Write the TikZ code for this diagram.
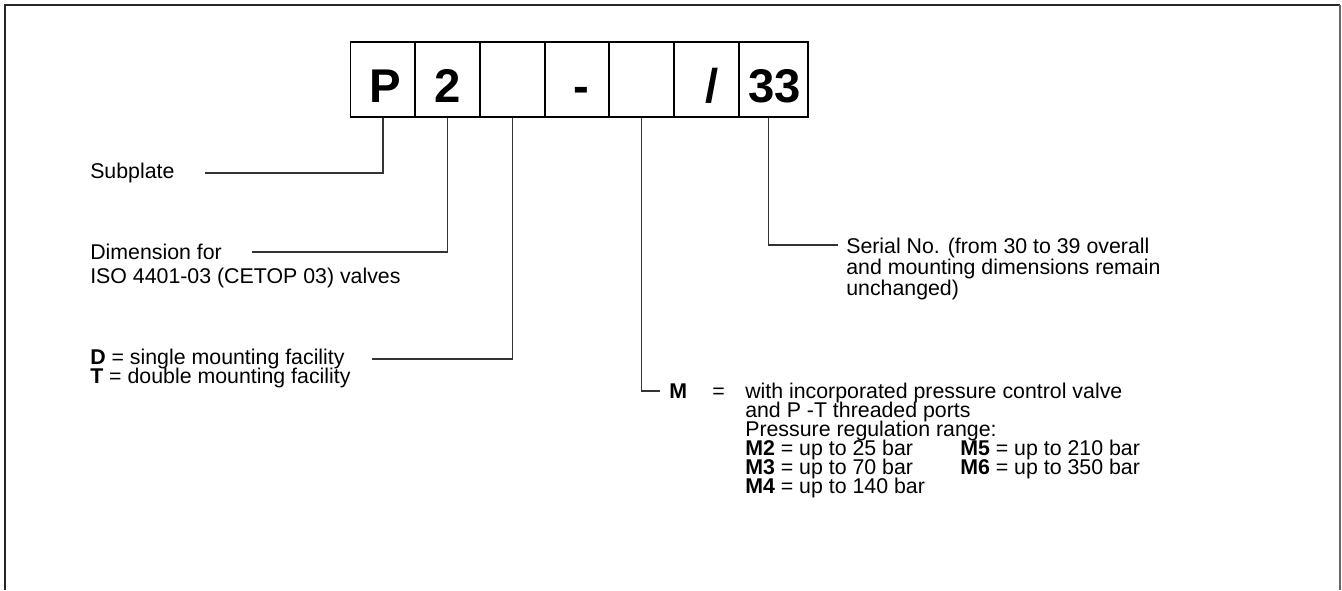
\documentclass[tikz,border=0pt]{standalone}
\usepackage{fontspec}
\setmainfont{Liberation Sans}

\begin{document}
\begin{tikzpicture}[
  x=0.75pt,
  y=-0.75pt,
  line join=miter,
  cell/.style={
    draw,
    line width=0.8pt,
    minimum width=48.75pt,
    minimum height=56.25pt,
    inner sep=0pt,
    text height=33.75pt,
    text depth=0pt,
    font=\fontsize{35.5}{36}\selectfont\bfseries,
  },
  txt/.style={
    anchor=base west,
    inner sep=0pt,
    font=\fontsize{16}{16}\selectfont,
  },
  lead/.style={
    draw=black!80,
    line width=0.8pt,
  },
]
  \useasboundingbox (0,0) rectangle (1342,590);

  % frame, open at the bottom
  \draw[line width=1.4pt, black!85] (5,590) -- (5,5) -- (1340,5);
  \draw[line width=0.8pt, black!60] (1340,5) -- (1340,590);

  % code boxes
  \node[cell] (b1) at (383,79.5) {\hspace*{3pt}P};
  \node[cell] (b2) at (447.5,79.5) {2};
  \node[cell] (b3) at (512.5,79.5) {};
  \node[cell] (b4) at (577,79.5) {\hspace*{6pt}-};
  \node[cell] (b5) at (641.5,79.5) {};
  \node[cell] (b6) at (706.5,79.5) {\hspace*{8pt}/};
  \node[cell, minimum width=51.75pt] (b7) at (773.5,79.5) {\hspace*{2pt}33};

  % descriptions
  \node[txt] (sub) at (90,178) {Subplate};
  \node[txt] (dim) at (90,259) {Dimension for};
  \node[txt] (iso) at (90,283) {ISO 4401-03 (CETOP 03) valves};
  \node[txt] (dd) at (90,364) {\textbf{D} = single mounting facility};
  \node[txt] (tt) at (90,383) {\textbf{T} = double mounting facility};

  \node[txt] (ser) at (846,253) {Serial No. (from 30 to 39 overall};
  \node[txt] (ser2) at (846,274) {and mounting dimensions remain};
  \node[txt] (ser3) at (846,295) {unchanged)};

  \node[txt] (mm) at (669,398) {\textbf{M}};
  \node[txt] (eq) at (712,398) {=};
  \node[txt] (m1) at (745,398) {with incorporated pressure control valve};
  \node[txt] (m2) at (745,417) {and P -T threaded ports};
  \node[txt] (m3) at (745,436) {Pressure regulation range:};
  \node[txt] (m4) at (745,455) {\textbf{M2} = up to 25 bar};
  \node[txt] (m5) at (745,474) {\textbf{M3} = up to 70 bar};
  \node[txt] (m6) at (745,493) {\textbf{M4} = up to 140 bar};
  \node[txt] (m7) at (960,455) {\textbf{M5} = up to 210 bar};
  \node[txt] (m8) at (960,474) {\textbf{M6} = up to 350 bar};

  % leader ends
  \coordinate (subEnd) at (205,173);
  \coordinate (dimEnd) at (252,252);
  \coordinate (ddEnd) at (372,359);
  \coordinate (serEnd) at (838,245);
  \coordinate (mEnd) at (660,391);

  \draw[lead] (b1.south) |- (subEnd);
  \draw[lead] (b2.south) |- (dimEnd);
  \draw[lead] (b3.south) |- (ddEnd);
  \draw[lead] (b5.south) |- (mEnd);
  \draw[lead] ([xshift=-3.5pt]b7.south) |- (serEnd);

\end{tikzpicture}
\end{document}
